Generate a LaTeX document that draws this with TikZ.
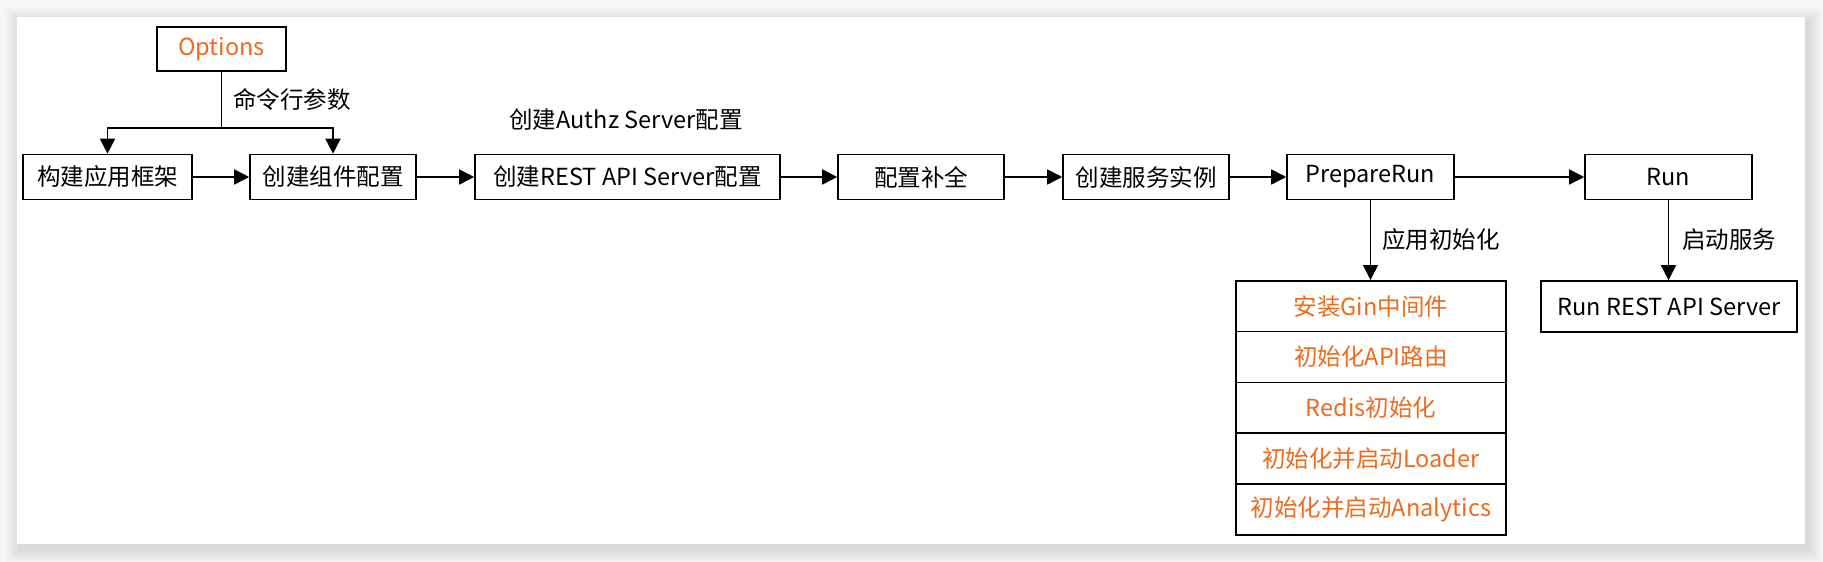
\documentclass[tikz,border=0pt]{standalone}
\usepackage{fontspec}
\setmainfont{Noto Sans CJK SC}
\usetikzlibrary{arrows.meta}
\definecolor{org}{RGB}{238,106,30}
\definecolor{bgc}{RGB}{246,246,246}
\tikzset{
  box/.style={draw=black, line width=1.6pt, inner sep=0pt, anchor=center,
    font=\fontsize{23.5}{28}\selectfont, text=black, minimum height=45pt},
  orgbox/.style={box, text=org},
  arr/.style={line width=1.6pt, -{Triangle[length=15pt,width=15pt]}},
  plain/.style={line width=1.6pt},
  lbl/.style={font=\fontsize{23.5}{28}\selectfont, inner sep=0pt, text=black},
}
\begin{document}
\begin{tikzpicture}[x=1pt,y=-1pt]
\useasboundingbox (0,0) rectangle (1823,562);
\fill[bgc] (0,0) rectangle (1823,562);
% shadow of the card
\foreach \i in {1,...,14}{
  \fill[black,opacity=0.008] (17-\i+3,17-\i+5) rectangle (1805+\i+3,544+\i+5);
}
\fill[white] (17,17) rectangle (1805,544);

% top row
\node[orgbox, minimum width=129pt, minimum height=44pt] (opt) at (221.5,49) {Options};
\node[box, minimum width=169pt] (b1) at (107.5,177) {构建应用框架};
\node[box, minimum width=166pt] (b2) at (333,177) {创建组件配置};
\node[box, minimum width=305pt] (b3) at (627.5,177) {创建REST API Server配置};
\node[box, minimum width=166pt] (b4) at (921,177) {配置补全};
\node[box, minimum width=166pt] (b5) at (1146,177) {创建服务实例};
\node[box, minimum width=167pt] (b6) at (1370.5,177) {PrepareRun};
\node[box, minimum width=167pt] (b7) at (1668.5,177) {Run};

% lower boxes
\node[box, minimum width=256pt, minimum height=51pt] (b8) at (1669,306.5) {Run REST API Server};
\node[orgbox, minimum width=270pt, minimum height=50.8pt] (s1) at (1371,306.2) {安装Gin中间件};
\node[orgbox, minimum width=270pt, minimum height=50.8pt] (s2) at (1371,357.0) {初始化API路由};
\node[orgbox, minimum width=270pt, minimum height=50.8pt] (s3) at (1371,407.8) {Redis初始化};
\node[orgbox, minimum width=270pt, minimum height=50.8pt] (s4) at (1371,458.6) {初始化并启动Loader};
\node[orgbox, minimum width=270pt, minimum height=50.8pt] (s5) at (1371,509.4) {初始化并启动Analytics};

% labels
\node[lbl] (authz) at (626,120) {创建Authz Server配置};
\node[lbl, anchor=west] (l1) at (233,99) {命令行参数};
\node[lbl, anchor=west] (l2) at (1382,240) {应用初始化};
\node[lbl, anchor=west] (l3) at (1682,240) {启动服务};

% connectors
\coordinate (jn) at (221.5,128);
\draw[plain] (opt.south) -- (jn);
\draw[arr] (jn) -| (b1.north);
\draw[arr] (jn) -| (b2.north);
\draw[arr] (b1) -- (b2);
\draw[arr] (b2) -- (b3);
\draw[arr] (b3) -- (b4);
\draw[arr] (b4) -- (b5);
\draw[arr] (b5) -- (b6);
\draw[arr] (b6) -- (b7);
\draw[arr] (b6.south) -- (b6.south |- s1.north);
\draw[arr] (b7.south) -- (b7.south |- b8.north);
\end{tikzpicture}
\end{document}
